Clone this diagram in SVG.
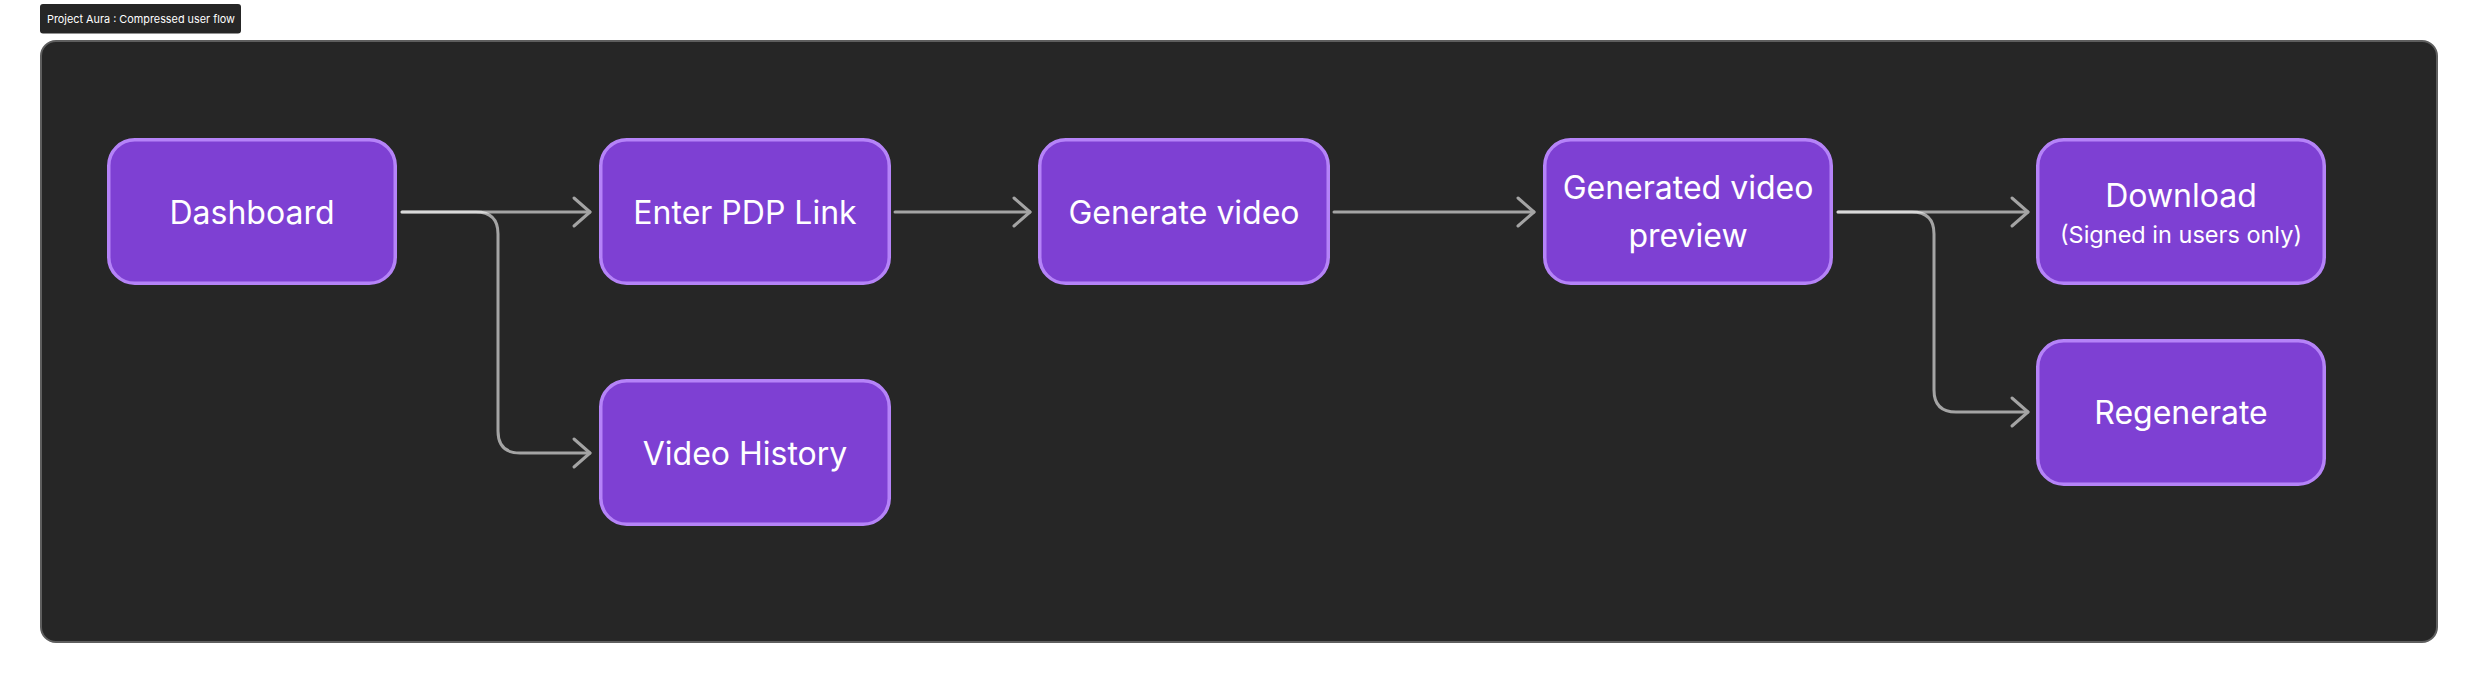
<svg xmlns="http://www.w3.org/2000/svg" width="2479" height="685" viewBox="0 0 2479 685">
  <style>
    .frame { fill: #262626; stroke: #5e5e5e; stroke-width: 2; }
    .tag { fill: #262626; }
    .tagtext { font-family: Inter, "Liberation Sans", sans-serif; font-size: 11px; fill: #ffffff; }
    .node rect { fill: #7e40d3; stroke: #b583f8; stroke-width: 3.5; }
    .node text { font-family: Inter, "Liberation Sans", sans-serif; font-size: 32px; fill: #ffffff; text-anchor: middle; }
    .node text.sub { font-size: 23.5px; }
    .edge { fill: none; stroke: #ffffff; stroke-opacity: 0.58; stroke-width: 3; stroke-linecap: round; stroke-linejoin: round; }
  </style>
  <defs>
    <marker id="arrow" markerUnits="userSpaceOnUse" markerWidth="24" markerHeight="36" viewBox="-20 -18 24 36" refX="0" refY="0" orient="auto">
      <path d="M-16,-14 L0,0 L-16,14" fill="none" stroke="#a4a4a4" stroke-width="3" stroke-linecap="round" stroke-linejoin="round"/>
    </marker>
  </defs>

  <rect width="2479" height="685" fill="#ffffff"/>

  <g id="title">
    <rect class="tag" x="40" y="4" width="201" height="29.5" rx="3"/>
    <text class="tagtext" x="47" y="22.5" textLength="188" lengthAdjust="spacingAndGlyphs">Project Aura : Compressed user flow</text>
  </g>

  <g id="frame">
    <rect class="frame" x="41" y="41" width="2396" height="601" rx="15"/>
  </g>

  <g id="connectors">
    <path class="edge" d="M402,212 H590" marker-end="url(#arrow)"/>
    <path class="edge" d="M402,212 H476 Q498,212 498,234 V431 Q498,453 520,453 H590" marker-end="url(#arrow)"/>
    <path class="edge" d="M895,212 H1030" marker-end="url(#arrow)"/>
    <path class="edge" d="M1334,212 H1534" marker-end="url(#arrow)"/>
    <path class="edge" d="M1838,212 H2028" marker-end="url(#arrow)"/>
    <path class="edge" d="M1838,212 H1912 Q1934,212 1934,234 V390 Q1934,412 1956,412 H2028" marker-end="url(#arrow)"/>
  </g>

  <g id="node-dashboard" class="node">
    <rect x="108.75" y="139.75" width="286.5" height="143.5" rx="26"/>
    <text x="252" y="224">Dashboard</text>
  </g>
  <g id="node-enter-pdp" class="node">
    <rect x="600.75" y="139.75" width="288.5" height="143.5" rx="26"/>
    <text x="745" y="224">Enter PDP Link</text>
  </g>
  <g id="node-video-history" class="node">
    <rect x="600.75" y="380.75" width="288.5" height="143.5" rx="26"/>
    <text x="745" y="465">Video History</text>
  </g>
  <g id="node-generate" class="node">
    <rect x="1039.75" y="139.75" width="288.5" height="143.5" rx="26"/>
    <text x="1184" y="224">Generate video</text>
  </g>
  <g id="node-preview" class="node">
    <rect x="1544.75" y="139.75" width="286.5" height="143.5" rx="26"/>
    <text x="1688" y="199">Generated video</text>
    <text x="1688" y="247">preview</text>
  </g>
  <g id="node-download" class="node">
    <rect x="2037.75" y="139.75" width="286.5" height="143.5" rx="26"/>
    <text x="2181" y="207">Download</text>
    <text class="sub" x="2181" y="243">(Signed in users only)</text>
  </g>
  <g id="node-regenerate" class="node">
    <rect x="2037.75" y="340.75" width="286.5" height="143.5" rx="26"/>
    <text x="2181" y="424">Regenerate</text>
  </g>
</svg>
